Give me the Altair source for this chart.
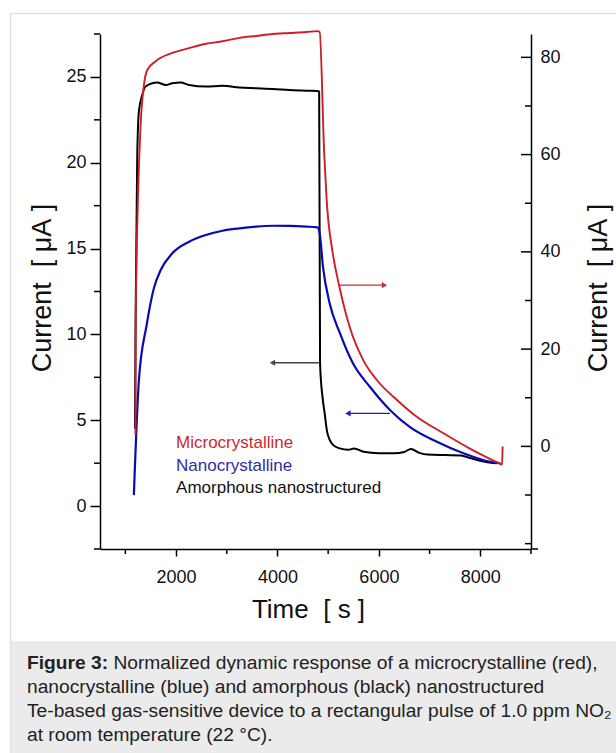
import altair as alt
import pandas as pd

# ---- measured traces: time [s] and current [uA] ----
# microcrystalline device (red, right-hand axis)
t_micro = [1200, 1204, 1248, 1301, 1366, 1432, 1598, 1927, 2257, 2588, 2917, 3248,
           3578, 3907, 4238, 4568, 4786, 4832, 4921, 4970, 5089, 5214, 5426, 5689,
           5955, 6351, 6747, 7273, 7802, 8198, 8396, 8430, 8440]
i_micro = [2.4, 25.0, 50.7, 66.1, 74.3, 77.4, 79.2, 80.9, 81.9, 82.8, 83.3, 84.0,
           84.4, 84.8, 85.0, 85.2, 85.4, 85.2, 60.4, 50.7, 39.8, 33.2, 24.5, 17.8,
           13.7, 9.6, 6.1, 2.7, -0.5, -2.6, -3.6, -3.8, 0.0]

# nanocrystalline device (blue, left-hand axis)
t_nano = [1168, 1267, 1420, 1564, 1697, 1927, 2257, 2588, 2917, 3248, 3578, 3907,
          4238, 4568, 4786, 4832, 4897, 5030, 5228, 5491, 5822, 6218, 6614, 7143,
          7669, 8198, 8396]
i_nano = [0.64, 7.34, 10.55, 12.7, 13.75, 14.73, 15.40, 15.79, 16.04, 16.18, 16.28,
          16.33, 16.32, 16.28, 16.24, 15.9, 13.95, 11.8, 10.1, 8.3, 6.95, 5.6, 4.6,
          3.75, 3.08, 2.58, 2.49]

# amorphous nanostructured device (black, left-hand axis)
t_amor = [1190, 1202, 1234, 1267, 1333, 1400, 1630, 1796, 1927, 2093, 2257, 2588,
          2917, 3248, 3578, 3907, 4238, 4568, 4786, 4822, 4840, 4890, 4931, 4975,
          5030, 5100, 5228, 5400, 5512, 5700, 6000, 6300, 6500, 6630, 6800, 6960,
          7300, 7620, 7800, 8066, 8330]
i_amor = [4.5, 10.96, 20.3, 23.0, 23.95, 24.44, 24.67, 24.53, 24.63, 24.67, 24.53,
          24.44, 24.48, 24.38, 24.34, 24.30, 24.24, 24.20, 24.18, 24.15, 8.3, 6.3,
          5.4, 4.4, 3.85, 3.55, 3.36, 3.28, 3.36, 3.16, 3.08, 3.08, 3.15, 3.33, 3.1,
          3.0, 2.97, 2.95, 2.8, 2.6, 2.49]

# axis ticks
x_major = [2000, 4000, 6000, 8000]
x_minor = [1000, 3000, 5000, 7000, 9000]
yl_major = [0, 5, 10, 15, 20, 25]
yl_minor = [-2.5, 2.5, 7.5, 12.5, 17.5, 22.5, 27.5]
yr_major = [0, 20, 40, 60, 80]
yr_minor = [-20, -10, 10, 30, 50, 70]

legend_labels = ["Microcrystalline", "Nanocrystalline", "Amorphous nanostructured"]
caption_bold = "Figure 3:"
caption_lines = [
    "Normalized dynamic response of a microcrystalline (red),",
    "nanocrystalline (blue) and amorphous (black) nanostructured",
    "Te-based gas-sensitive device to a rectangular pulse of 1.0 ppm NO\u2082",
    "at room temperature (22 \u00b0C).",
]

RED = "#cc1f26"
BLUE = "#0a0ab4"
BLACK = "#000000"
FONT = "Liberation Sans"
W, H = 431, 515

x_scale = alt.Scale(domain=[500, 9000], nice=False, zero=False)
yl_scale = alt.Scale(domain=[-2.5, 27.5], nice=False, zero=False)
yr_scale = alt.Scale(domain=[-21.1, 84.8], nice=False, zero=False)

y_title = "Current\u00a0\u00a0[\u00a0\u03bcA\u00a0]"

# every layer on a shared scale carries the same axis definition
x_axis = alt.Axis(values=x_major, format="d", tickSize=7, labelPadding=12,
                  labelFontSize=18, title="Time\u00a0\u00a0[\u00a0s\u00a0]",
                  titleFontSize=26, titleX=208, titleY=68,
                  titleBaseline="alphabetic", titleAlign="center")
yl_axis = alt.Axis(values=yl_major, tickSize=10, labelPadding=4, labelFontSize=18,
                   title=y_title, titleFontSize=27,
                   titleAngle=270, titleX=-50, titleY=253.5,
                   titleBaseline="alphabetic", titleAlign="center")
yr_axis = alt.Axis(orient="right", values=yr_major, ticks=False, tickSize=0,
                   labelPadding=9, labelFontSize=18,
                   title=y_title, titleFontSize=27,
                   titleAngle=270, titleX=75, titleY=253.5,
                   titleBaseline="alphabetic", titleAlign="center")

one = pd.DataFrame({"k": [0]})


def series(t, v):
    return pd.DataFrame({"t": t, "v": v, "i": list(range(len(t)))})


def X(field=None, datum=None):
    if datum is not None:
        return alt.X(datum=datum, scale=x_scale, axis=x_axis)
    return alt.X(field, type="quantitative", scale=x_scale, axis=x_axis)


def YL(field=None, datum=None):
    if datum is not None:
        return alt.Y(datum=datum, scale=yl_scale, axis=yl_axis)
    return alt.Y(field, type="quantitative", scale=yl_scale, axis=yl_axis)


def YR(field=None, datum=None):
    if datum is not None:
        return alt.Y(datum=datum, scale=yr_scale, axis=yr_axis)
    return alt.Y(field, type="quantitative", scale=yr_scale, axis=yr_axis)


# ---- figure frame and caption ----
caption_bg = alt.Chart(one).mark_rect(color="#ebebeb").encode(
    x=alt.value(-90), x2=alt.value(530), y=alt.value(607), y2=alt.value(730))
frame_left = alt.Chart(one).mark_rule(color="#e2e2e2", strokeWidth=1.5).encode(
    x=alt.value(-89.5), y=alt.value(-21), y2=alt.value(730))
frame_top = alt.Chart(one).mark_rule(color="#e2e2e2", strokeWidth=1.5).encode(
    x=alt.value(-90), x2=alt.value(530), y=alt.value(-20.5))

cap_size = 19.2
cap_layers = [
    alt.Chart(one).mark_text(align="left", baseline="alphabetic", fontSize=cap_size,
                             fontWeight="bold", color="#222222", font=FONT).encode(
        x=alt.value(-73), y=alt.value(635), text=alt.value(caption_bold))
]
bold_w = 4.223 * cap_size + 0.278 * cap_size
for n, line in enumerate(caption_lines):
    x0 = -73 + (bold_w if n == 0 else 0)
    cap_layers.append(
        alt.Chart(one).mark_text(align="left", baseline="alphabetic", fontSize=cap_size,
                                 color="#222222", font=FONT).encode(
            x=alt.value(x0), y=alt.value(635 + 24 * n), text=alt.value(line)))

# ---- left-axis traces ----
nano = alt.Chart(series(t_nano, i_nano)).mark_line(
    color=BLUE, strokeWidth=2.2, interpolate="monotone").encode(
    x=X("t"), y=YL("v"), order="i:Q")
amor = alt.Chart(series(t_amor, i_amor)).mark_line(
    color=BLACK, strokeWidth=2, interpolate="monotone").encode(
    x=X("t"), y=YL("v"), order="i:Q")

yl_minor_ticks = alt.Chart(pd.DataFrame({"v": yl_minor})).mark_rule(
    color=BLACK, strokeWidth=1.5).encode(y=YL("v"), x=alt.value(-6), x2=alt.value(0))
x_minor_ticks = alt.Chart(pd.DataFrame({"t": x_minor})).mark_rule(
    color=BLACK, strokeWidth=1.5).encode(x=X("t"), y=alt.value(H), y2=alt.value(H + 5))
x_axis_end = alt.Chart(one).mark_rule(color=BLACK, strokeWidth=1.5).encode(
    x=alt.value(W), x2=alt.value(W + 7), y=alt.value(H))

legend_colors = ["#cc2a33", "#2d2da6", "#111111"]
legend_y = [3.65, 2.35, 1.07]
legend_layers = [
    alt.Chart(one).mark_text(align="left", baseline="middle", fontSize=17,
                             color=c, font=FONT).encode(
        x=X(datum=2000), y=YL(datum=yv), text=alt.value(lbl))
    for lbl, c, yv in zip(legend_labels, legend_colors, legend_y)
]


def arrow(x_tail, x_head, y, ych, color, shape):
    shaft = alt.Chart(one).mark_rule(color=color, strokeWidth=1.3).encode(
        x=X(datum=x_tail), x2=alt.X2(datum=x_head), y=ych(datum=y))
    head = alt.Chart(one).mark_point(shape=shape, filled=True, size=38, opacity=1,
                                     color=color).encode(
        x=X(datum=x_head), y=ych(datum=y))
    return [shaft, head]


arrows_left = (arrow(4846, 3900, 8.35, YL, "#444444", "triangle-left")
               + arrow(6218, 5390, 5.4, YL, "#2020b0", "triangle-left"))

left = alt.layer(caption_bg, frame_left, frame_top, *cap_layers,
                 yl_minor_ticks, x_minor_ticks, x_axis_end,
                 *legend_layers, *arrows_left, amor, nano)

# ---- right-axis trace ----
micro = alt.Chart(series(t_micro, i_micro)).mark_line(
    color=RED, strokeWidth=1.9, interpolate="monotone").encode(
    x=X("t"), y=YR("v"), order="i:Q")
yr_major_ticks = alt.Chart(pd.DataFrame({"v": yr_major})).mark_rule(
    color=BLACK, strokeWidth=1.5).encode(y=YR("v"), x=alt.value(W - 10), x2=alt.value(W))
yr_minor_ticks = alt.Chart(pd.DataFrame({"v": yr_minor})).mark_rule(
    color=BLACK, strokeWidth=1.5).encode(y=YR("v"), x=alt.value(W - 6), x2=alt.value(W))

arrows_right = arrow(5208, 6110, 33.15, YR, "#c83030", "triangle-right")

right = alt.layer(yr_major_ticks, yr_minor_ticks, *arrows_right, micro)

chart = alt.layer(left, right).resolve_scale(y="independent").properties(
    width=W, height=H,
    autosize=alt.AutoSizeParams(type="none"),
    padding={"left": 100, "top": 34, "right": 85, "bottom": 204},
    background="white",
).configure_view(stroke=None).configure_axis(
    grid=False, domainColor=BLACK, domainWidth=1.5, tickColor=BLACK, tickWidth=1.5,
    labelColor="#111111", titleColor="#111111", titleFontWeight="normal",
    labelFont=FONT, titleFont=FONT,
).configure_text(font=FONT)

chart.save("out.html", embed_options={"renderer": "svg", "actions": False})
